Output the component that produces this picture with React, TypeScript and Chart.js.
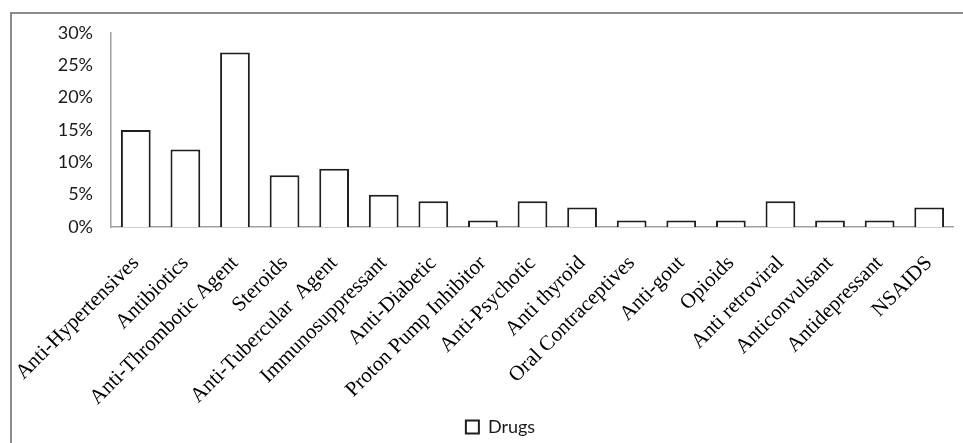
import React, { useEffect, useRef } from "react";
import { Chart, registerables } from "chart.js";

Chart.register(...registerables);

const categories: string[] = [
  "Anti-Hypertensives",
  "Antibiotics",
  "Anti-Thrombotic Agent",
  "Steroids",
  "Anti-Tubercular  Agent",
  "Immunosuppressant",
  "Anti-Diabetic",
  "Proton Pump Inhibitor",
  "Anti-Psychotic",
  "Anti thyroid",
  "Oral Contraceptives",
  "Anti-gout",
  "Opioids",
  "Anti retroviral",
  "Anticonvulsant",
  "Antidepressant",
  "NSAIDS",
];

const drugsPercent: number[] = [15, 12, 27, 8, 9, 5, 4, 1, 4, 3, 1, 1, 1, 4, 1, 1, 3];

const yTicks: number[] = [0, 5, 10, 15, 20, 25, 30];

const seriesName = "Drugs";

const shiftLegend = {
  id: "shiftLegend",
  afterLayout(chart: any) {
    const l = chart.legend;
    if (!l) return;
    l.left += 19;
    l.right += 19;
    l.top += 3;
    l.bottom += 3;
  },
};

export default function App() {
  const ref = useRef<HTMLCanvasElement | null>(null);

  useEffect(() => {
    if (!ref.current) return;
    const chart = new Chart(ref.current, {
      type: "bar",
      data: {
        labels: categories,
        datasets: [
          {
            label: seriesName,
            data: drugsPercent,
            backgroundColor: "#ffffff",
            borderColor: "#1e1e1e",
            borderWidth: 2,
            borderSkipped: "bottom",
            categoryPercentage: 1,
            barPercentage: 0.6,
          },
        ],
      },
      plugins: [shiftLegend],
      options: {
        animation: false,
        responsive: false,
        maintainAspectRatio: false,
        devicePixelRatio: 1,
        layout: { padding: { top: 33, left: 0, right: 0, bottom: 0 } },
        plugins: {
          tooltip: { enabled: false },
          legend: {
            display: true,
            position: "bottom",
            labels: {
              boxWidth: 13,
              boxHeight: 13,
              padding: 4,
              color: "#1a1a1a",
              font: { family: "Lato", size: 18 },
            },
          },
        },
        scales: {
          x: {
            grid: { display: false },
            border: { display: true, color: "#a0a0a0", width: 1.5 },
            ticks: {
              autoSkip: false,
              minRotation: 45,
              maxRotation: 45,
              padding: 16,
              color: "#000000",
              font: { family: "Liberation Serif", size: 21 },
            },
            afterFit: (scale: any) => {
              scale.height = 184;
            },
          },
          y: {
            min: yTicks[0],
            max: yTicks[yTicks.length - 1],
            grid: { display: false },
            border: { display: true, color: "#a0a0a0", width: 1.5 },
            afterBuildTicks: (scale: any) => {
              scale.ticks = yTicks.map((v) => ({ value: v }));
            },
            ticks: {
              padding: 10,
              color: "#1a1a1a",
              font: { family: "Lato", size: 18 },
              callback: (v: any) => `${v}%`,
            },
            afterFit: (scale: any) => {
              scale.width = 111;
            },
          },
        },
      },
    });
    return () => chart.destroy();
  }, []);

  return (
    <div style={{ position: "absolute", left: 0, top: 0, width: 963, height: 443, background: "#fff" }}>
      <canvas ref={ref} width={963} height={443} style={{ position: "absolute", left: 0, top: 0 }} />
      <div
        style={{
          position: "absolute",
          left: 10,
          top: 12,
          width: 953,
          height: 431,
          borderLeft: "2px solid #8c8c8c",
          borderTop: "2px solid #8c8c8c",
          pointerEvents: "none",
        }}
      />
    </div>
  );
}
